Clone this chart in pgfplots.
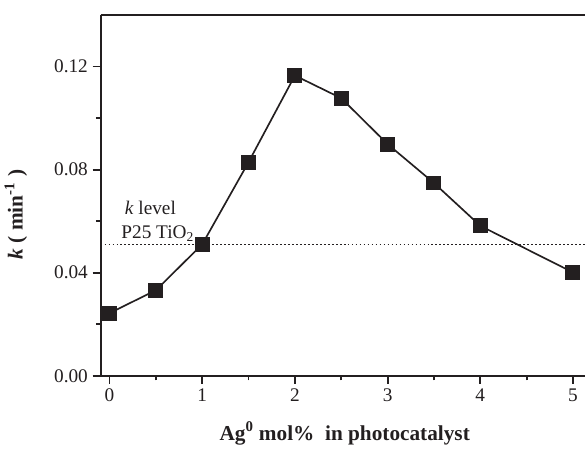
\documentclass[border=0pt]{standalone}
\usepackage{fontspec}
\setmainfont{Liberation Serif}
\usepackage{pgfplots}
\pgfplotsset{compat=1.18}
\definecolor{ink}{HTML}{231F20}
\begin{document}
\begin{tikzpicture}
\begin{axis}[
  name=ax,
  scale only axis,
  width=364.5pt, height=271.5pt,
  xmin=-0.097, xmax=5.13,
  ymin=0, ymax=0.14,
  axis x line*=box,
  axis y line*=left,
  xtick pos=bottom,
  xtick={0,1,2,3,4,5},
  ytick={0,0.04,0.08,0.12},
  minor x tick num=1,
  minor y tick num=1,
  tick align=outside,
  major tick length=6pt,
  minor tick length=3.5pt,
  every tick/.style={ink, line width=1.4pt},
  axis line style={ink, line width=1.5pt},
  scaled y ticks=false,
  yticklabel style={/pgf/number format/.cd, fixed, fixed zerofill, precision=2},
  /pgf/number format/assume math mode=true,
  tick label style={font=\fontsize{14.5}{17}\selectfont, text=ink},
  clip=false,
]
\addplot[ink, line width=1.25pt, mark=square*, mark size=5pt, mark options={fill=ink, draw=ink, solid}]
  coordinates {
  (0,0.0243) (0.5,0.0332) (1,0.0510) (1.5,0.0829) (2,0.1165)
  (2.5,0.1077) (3,0.0899) (3.5,0.0748) (4,0.0582) (5,0.0401)
  };
\addplot[ink, line width=1.3pt, dash pattern=on 1.3pt off 1.7pt] coordinates {(-0.097,0.0509) (5.13,0.0509)};
\node[font=\fontsize{14.5}{17}\selectfont, text=ink] at (axis cs:0.44,0.0652) {\textit{k} level};
\node[font=\fontsize{14.5}{17}\selectfont, text=ink] at (axis cs:0.52,0.0553) {P25 TiO\textsubscript{2}};
\node[font=\bfseries\fontsize{16}{19}\selectfont, text=ink] at (axis description cs:0.504,-0.160) {Ag\textsuperscript{0} mol\%\ \ in photocatalyst};
\node[font=\bfseries\fontsize{16}{19}\selectfont, text=ink, rotate=90] at (axis description cs:-0.175,0.447) {\textit{k} ( min\textsuperscript{-1} )};
\end{axis}
\path[use as bounding box] ([shift={(-75pt,-51pt)}]ax.south west) rectangle ([shift={(0pt,11.25pt)}]ax.north east);
\end{tikzpicture}
\end{document}
